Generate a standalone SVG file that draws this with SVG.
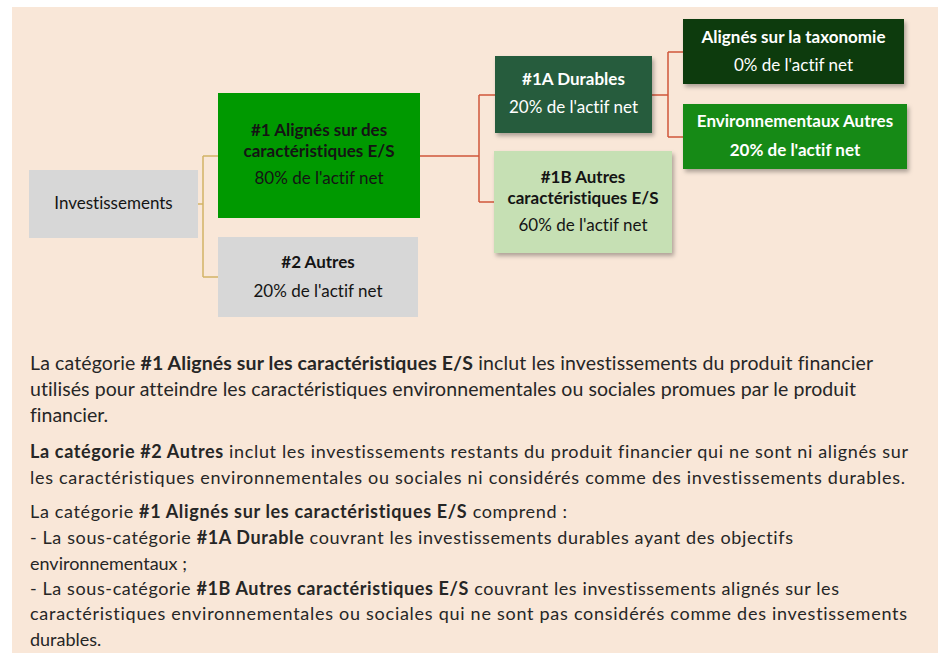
<svg xmlns="http://www.w3.org/2000/svg" width="938" height="653" viewBox="0 0 938 653">
<defs>
<filter id="sh" x="-10%" y="-10%" width="130%" height="140%">
<feDropShadow dx="2" dy="3" stdDeviation="2" flood-color="#000" flood-opacity="0.3"/>
</filter>
<style>
text{font-family:Lato,"Open Sans","Liberation Sans",sans-serif;font-variant-ligatures:none;}
.n{font-size:17px;text-anchor:middle;fill:#141414;}
.w{fill:#ffffff;}
.b{font-weight:bold;}
.p{font-size:18px;fill:#262626;}
.p1{font-size:19.5px;fill:#262626;}
.tan{fill:none;stroke:#d2b466;stroke-width:1.5;}
.red{fill:none;stroke:#d0573a;stroke-width:1.5;}
</style>
</defs>
<rect x="0" y="0" width="938" height="653" fill="#ffffff"/>
<rect x="12" y="7" width="926" height="646" fill="#f9e7d8"/>
<g id="connectors">
<path class="tan" d="M198 204 H203 M203 156 V277 M203 156 H218 M203 277 H218"/>
<path class="red" d="M420 156 H479 M479 95 V202 M479 95 H495 M479 202 H494"/>
<path class="red" d="M652 95 H668 M668 52 V137 M668 52 H683 M668 137 H683"/>
</g>
<g id="investissements">
<rect x="29" y="170" width="169" height="68" fill="#d7d7d7"/>
<text class="n" x="113.5" y="209">Investissements</text>
</g>
<g id="n1">
<rect x="218" y="93" width="202" height="125" fill="#009900"/>
<text class="n b" x="319" y="136">#1 Alignés sur des</text>
<text class="n b" x="319" y="157">caractéristiques E/S</text>
<text class="n" x="319" y="184">80% de l'actif net</text>
</g>
<g id="n2">
<rect x="218" y="237" width="200" height="80" fill="#d7d7d7"/>
<text class="n b" x="318" y="268">#2 Autres</text>
<text class="n" x="318" y="297">20% de l'actif net</text>
</g>
<g id="n1a">
<rect x="495" y="56" width="157" height="77" fill="#285b3c" filter="url(#sh)"/>
<text class="n b w" x="573.5" y="85">#1A Durables</text>
<text class="n w" x="573.5" y="113">20% de l'actif net</text>
</g>
<g id="n1b">
<rect x="494" y="151" width="178" height="102" fill="#c6e0b4" filter="url(#sh)"/>
<text class="n b" x="583" y="183">#1B Autres</text>
<text class="n b" x="583" y="204">caractéristiques E/S</text>
<text class="n" x="583" y="231">60% de l'actif net</text>
</g>
<g id="taxo">
<rect x="683" y="19" width="221" height="65" fill="#0a3a0a" filter="url(#sh)"/>
<text class="n b w" x="793.5" y="43">Alignés sur la taxonomie</text>
<text class="n w" x="793.5" y="71">0% de l'actif net</text>
</g>
<g id="env">
<rect x="683" y="104" width="224" height="65" fill="#148a14" filter="url(#sh)"/>
<text class="n b w" x="795" y="127">Environnementaux Autres</text>
<text class="n b w" x="795" y="156">20% de l'actif net</text>
</g>
<g id="texte">
<text class="p1" x="30" y="370" textLength="843" lengthAdjust="spacing">La catégorie <tspan class="b">#1 Alignés sur les caractéristiques E/S</tspan> inclut les investissements du produit financier</text>
<text class="p1" x="30" y="396" textLength="826" lengthAdjust="spacing">utilisés pour atteindre les caractéristiques environnementales ou sociales promues par le produit</text>
<text class="p1" x="30" y="422">financier.</text>
<text class="p" x="30" y="458" textLength="878" lengthAdjust="spacing"><tspan class="b">La catégorie #2 Autres</tspan> inclut les investissements restants du produit financier qui ne sont ni alignés sur</text>
<text class="p" x="30" y="484" textLength="875" lengthAdjust="spacing">les caractéristiques environnementales ou sociales ni considérés comme des investissements durables.</text>
<text class="p" x="30" y="518" textLength="537" lengthAdjust="spacing">La catégorie <tspan class="b">#1 Alignés sur les caractéristiques E/S</tspan> comprend :</text>
<text class="p" x="30" y="544" textLength="763" lengthAdjust="spacing">- La sous-catégorie <tspan class="b">#1A Durable</tspan> couvrant les investissements durables ayant des objectifs</text>
<text class="p" x="30" y="570">environnementaux ;</text>
<text class="p" x="30" y="595" textLength="809" lengthAdjust="spacing">- La sous-catégorie <tspan class="b">#1B Autres caractéristiques E/S</tspan> couvrant les investissements alignés sur les</text>
<text class="p" x="30" y="620" textLength="877" lengthAdjust="spacing">caractéristiques environnementales ou sociales qui ne sont pas considérés comme des investissements</text>
<text class="p" x="30" y="646">durables.</text>
</g>
</svg>
